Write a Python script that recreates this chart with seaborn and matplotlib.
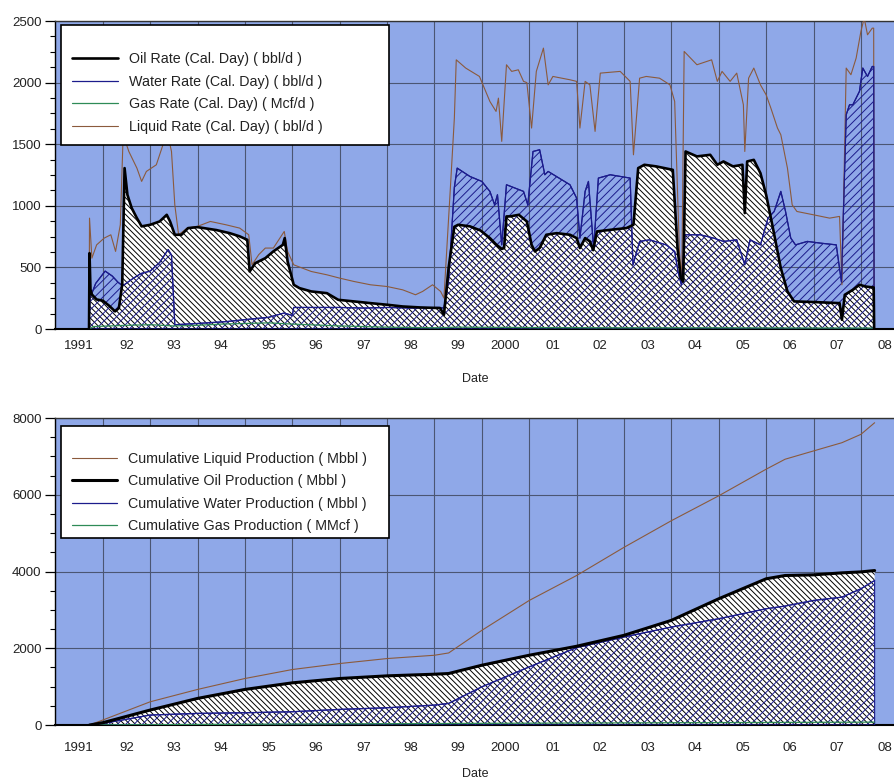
import matplotlib
matplotlib.use("Agg")
import matplotlib.pyplot as plt
import seaborn as sns
import pandas as pd
from matplotlib.ticker import FixedLocator, MultipleLocator, NullFormatter
from matplotlib.lines import Line2D
from matplotlib.legend_handler import HandlerLine2D

# ---------------- data (decimal years) ----------------
oil_t = [1991.71, 1991.72, 1991.74, 1991.77, 1991.87, 1992.0, 1992.13, 1992.26, 1992.34, 1992.41, 1992.46,
         1992.52, 1992.61, 1992.72, 1992.82, 1993.0, 1993.2, 1993.35, 1993.42, 1993.52, 1993.66, 1993.8,
         1994.0, 1994.4, 1994.68, 1994.89, 1995.05, 1995.1, 1995.22, 1995.43, 1995.6, 1995.8, 1995.84,
         1995.9, 1996.03, 1996.15, 1996.4, 1996.73, 1996.97, 1997.3, 1997.65, 1998.0, 1998.33, 1998.7,
         1999.12, 1999.2, 1999.3, 1999.42, 1999.5, 1999.75, 1999.97, 2000.17, 2000.31, 2000.42, 2000.47,
         2000.52, 2000.6, 2000.78, 2000.95, 2001.05, 2001.12, 2001.22, 2001.36, 2001.58, 2001.86, 2002.0,
         2002.07, 2002.18, 2002.28, 2002.35, 2002.43, 2002.71, 2003.05, 2003.2, 2003.3, 2003.43, 2003.68,
         2004.03, 2004.13, 2004.2, 2004.25, 2004.3, 2004.54, 2004.82, 2004.97, 2005.1, 2005.3, 2005.5,
         2005.55, 2005.6, 2005.74, 2005.88, 2006.0, 2006.13, 2006.31, 2006.45, 2006.59, 2007.0, 2007.55,
         2007.6, 2007.66, 2007.83, 2007.97, 2008.1, 2008.27, 2008.28]
oil_v = [0, 616, 320, 280, 240, 230, 190, 143, 170, 360, 1306,
         1089, 982, 900, 833, 846, 873, 927, 873, 765, 765, 819,
         827, 803, 778, 752, 724, 467, 535, 575, 630, 683, 738,
         549, 359, 332, 305, 291, 237, 224, 210, 197, 183, 175,
         170, 115, 500, 830, 846, 833, 800, 738, 683, 650, 657,
         914, 914, 927, 873, 683, 630, 657, 765, 778, 765, 738,
         657, 738, 711, 640, 792, 805, 819, 846, 1306, 1333, 1320,
         1292, 657, 413, 386, 1441, 1401, 1414, 1333, 1360, 1320, 1333,
         941, 1360, 1373, 1265, 1089, 846, 494, 305, 224, 219, 210,
         75, 278, 318, 359, 345, 337, 0]

water_t = [1991.71, 1991.73, 1991.78, 1991.85, 1991.95, 1992.05, 1992.2, 1992.32, 1992.42, 1992.6, 1992.8,
           1993.0, 1993.2, 1993.38, 1993.45, 1993.5, 1993.52, 1994.0, 1994.6, 1995.1, 1995.5, 1995.83,
           1996.0, 1996.03, 1996.5, 1997.0, 1997.5, 1998.0, 1998.5, 1999.1, 1999.2, 1999.3, 1999.42,
           1999.48, 1999.75, 2000.0, 2000.17, 2000.27, 2000.33, 2000.42, 2000.52, 2000.7, 2000.88, 2000.97,
           2001.08, 2001.22, 2001.33, 2001.4, 2001.86, 2002.0, 2002.07, 2002.18, 2002.25, 2002.36, 2002.46,
           2002.71, 2003.13, 2003.19, 2003.33, 2003.54, 2003.89, 2004.07, 2004.14, 2004.21, 2004.29, 2004.61,
           2004.89, 2005.1, 2005.38, 2005.55, 2005.66, 2005.88, 2006.04, 2006.17, 2006.31, 2006.41, 2006.52,
           2006.62, 2006.87, 2007.15, 2007.48, 2007.59, 2007.69, 2007.76, 2007.83, 2007.97, 2008.04, 2008.14,
           2008.24, 2008.27, 2008.28]
water_v = [0, 250, 300, 370, 420, 470, 430, 380, 350, 400, 450,
           470, 540, 645, 600, 200, 35, 45, 60, 80, 95, 130,
           110, 175, 175, 175, 170, 175, 170, 175, 170, 400, 1150,
           1306, 1238, 1198, 1117, 1008, 1090, 683, 1171, 1144, 1117, 1008,
           1441, 1455, 1252, 1279, 1171, 1063, 738, 1117, 1198, 657, 1225,
           1252, 1225, 521, 711, 724, 683, 630, 467, 359, 765, 765,
           738, 711, 724, 521, 724, 683, 900, 954, 1117, 954, 738,
           683, 711, 697, 683, 381, 1739, 1820, 1820, 1929, 2118, 2050,
           2131, 2131, 0]

liq_t = [1991.71, 1991.72, 1991.77, 1991.87, 1992.03, 1992.17, 1992.27, 1992.37, 1992.43, 1992.55, 1992.72,
         1992.82, 1992.92, 1993.13, 1993.27, 1993.36, 1993.45, 1993.52, 1993.6, 1993.78, 1994.0, 1994.27,
         1994.6, 1994.89, 1995.08, 1995.15, 1995.29, 1995.43, 1995.6, 1995.83, 1995.9, 1996.03, 1996.4,
         1996.73, 1997.0, 1997.3, 1997.65, 1998.0, 1998.33, 1998.6, 1998.75, 1998.96, 1999.13, 1999.2,
         1999.34, 1999.42, 1999.46, 1999.66, 1999.95, 2000.17, 2000.3, 2000.35, 2000.42, 2000.52, 2000.63,
         2000.77, 2000.88, 2000.95, 2001.05, 2001.15, 2001.3, 2001.4, 2001.5, 2001.86, 2002.0, 2002.07,
         2002.18, 2002.28, 2002.39, 2002.5, 2002.92, 2003.13, 2003.2, 2003.33, 2003.47, 2003.75, 2003.97,
         2004.07, 2004.17, 2004.22, 2004.27, 2004.54, 2004.85, 2004.97, 2005.07, 2005.24, 2005.38, 2005.52,
         2005.55, 2005.63, 2005.74, 2005.88, 2006.0, 2006.1, 2006.24, 2006.31, 2006.45, 2006.55, 2006.65,
         2007.0, 2007.34, 2007.55, 2007.6, 2007.69, 2007.79, 2007.9, 2008.0, 2008.07, 2008.14, 2008.24,
         2008.27, 2008.28]
liq_v = [0, 900, 575, 683, 738, 765, 630, 846, 1576, 1441, 1306,
         1198, 1279, 1333, 1495, 1600, 1441, 1008, 765, 819, 833, 873,
         846, 819, 765, 521, 603, 657, 657, 792, 630, 521, 467,
         440, 413, 386, 359, 345, 318, 278, 305, 359, 305, 251,
         1171, 1711, 2185, 2118, 2050, 1847, 1766, 1874, 1523, 2145, 2091,
         2104, 2010, 2000, 1631, 2091, 2280, 1982, 2050, 2023, 2010, 1631,
         2010, 1982, 1604, 2077, 2091, 2010, 1414, 2036, 2050, 2036, 1982,
         1847, 630, 420, 2253, 2145, 2185, 2010, 2091, 2010, 2077, 1820,
         1441, 2036, 2118, 1982, 1901, 1793, 1631, 1577, 1306, 1008, 954,
         927, 900, 914, 359, 2118, 2064, 2199, 2415, 2524, 2388, 2442,
         2442, 0]

gas_t = [1991.71, 1991.8, 1992.5, 1993.0, 1993.5, 1994.0, 1994.5, 1995.0, 1995.5, 1996.0,
         1997.0, 1998.0, 1999.0, 1999.5, 2001.0, 2003.0, 2005.0, 2007.0, 2008.27, 2008.28]
gas_v = [0, 20, 30, 35, 25, 30, 40, 45, 50, 40,
         25, 15, 10, 15, 12, 10, 10, 8, 8, 0]

cum_t = [1991.72, 1992.0, 1993.0, 1994.0, 1995.0, 1996.0, 1997.0, 1998.0, 1999.0, 1999.3, 2000.0,
         2001.0, 2002.0, 2003.0, 2004.0, 2005.0, 2006.0, 2006.4, 2007.0, 2007.6, 2008.0, 2008.29]
cum_liq = [0, 130, 605, 927, 1212, 1446, 1602, 1732, 1818, 1878, 2467,
           3246, 3896, 4630, 5324, 5973, 6666, 6926, 7142, 7357, 7574, 7877]
cum_oil = [0, 60, 390, 693, 927, 1099, 1212, 1281, 1324, 1342, 1558,
           1818, 2052, 2337, 2727, 3290, 3810, 3896, 3913, 3965, 3990, 4025]
cum_water = [0, 40, 260, 303, 320, 346, 407, 450, 519, 563, 995,
             1514, 2017, 2294, 2553, 2770, 3030, 3100, 3246, 3332, 3550, 3766]
cum_gas = [0, 2, 8, 14, 20, 26, 31, 35, 38, 40, 44,
           48, 52, 56, 60, 63, 66, 68, 70, 72, 74, 75]

year_labels = ["1991", "92", "93", "94", "95", "96", "97", "98", "99", "2000",
               "01", "02", "03", "04", "05", "06", "07", "08"]

top_labels = ["Oil Rate (Cal. Day) ( bbl/d )", "Water Rate (Cal. Day) ( bbl/d )",
              "Gas Rate (Cal. Day) ( Mcf/d )", "Liquid Rate (Cal. Day) ( bbl/d )"]
bot_labels = ["Cumulative Liquid Production ( Mbbl )", "Cumulative Oil Production ( Mbbl )",
              "Cumulative Water Production ( Mbbl )", "Cumulative Gas Production ( MMcf )"]

# ---------------- style ----------------
sns.set_style("white")
plt.rcParams["font.family"] = ["Liberation Sans", "DejaVu Sans"]
plt.rcParams["hatch.linewidth"] = 0.7

BG = "#8FA8E8"
GRID = "#4b5673"
OIL_C = "black"
WATER_C = "#1c1c8c"
GAS_C = "#2e8b57"
LIQ_C = "#8b5a3c"
TXT = "#222222"
OIL_HATCH = "\\" * 6
WATER_HATCH = "/" * 4

XMIN, XMAX = 1991.0, 2008.72
years = list(range(1991, 2010))
mid_years = [y + 0.5 for y in range(1991, 2009)]
months = [y + m / 12 for y in range(1991, 2009) for m in range(1, 12)]

fig = plt.figure(figsize=(8.95, 7.78), dpi=100, facecolor="white")
ax1 = fig.add_axes([0.0619, 0.5771, 0.9381, 0.3959])
ax2 = fig.add_axes([0.0619, 0.0681, 0.9381, 0.3946])


def style(ax, ymax, ymaj, ymin, lab_pad, date_pad):
    ax.set_facecolor(BG)
    ax.set_xlim(XMIN, XMAX)
    ax.set_ylim(0, ymax)
    ax.xaxis.set_major_locator(FixedLocator(years))
    ax.xaxis.set_minor_locator(FixedLocator(months))
    ax.xaxis.set_major_formatter(NullFormatter())
    ax.tick_params(axis="x", which="major", direction="out", length=8.5, width=1.0, color="black")
    ax.tick_params(axis="x", which="minor", direction="out", length=3, width=0.8, color="black")
    ax.yaxis.set_major_locator(MultipleLocator(ymaj))
    ax.yaxis.set_minor_locator(MultipleLocator(ymin))
    ax.tick_params(axis="y", which="major", direction="out", length=7, width=0.9, pad=3,
                   labelsize=9.5, labelcolor=TXT, color="black", left=True)
    ax.tick_params(axis="y", which="minor", direction="out", length=3.5, width=0.8, color="black", left=True)
    ax.grid(True, which="major", color=GRID, lw=0.8)
    ax.set_axisbelow(True)
    ax.spines["right"].set_visible(False)
    ax.spines["top"].set_color("#333333")
    ax.spines["top"].set_linewidth(1.0)
    ax.spines["left"].set_color("black")
    ax.spines["left"].set_linewidth(1.0)
    ax.spines["bottom"].set_color("black")
    ax.spines["bottom"].set_linewidth(1.5)
    ax.set_xlabel("")
    ax.set_ylabel("")
    sec = ax.secondary_xaxis("bottom")
    sec.set_xticks(mid_years, year_labels)
    sec.tick_params(length=0, pad=lab_pad, labelsize=9.5, labelcolor=TXT)
    sec.spines["bottom"].set_visible(False)
    sec.set_xlabel("Date", fontsize=9, color=TXT, labelpad=date_pad)


def make_legend(ax, handles, labels, top, bpad, tsize, lspace, hlen, tpad, xpad):
    leg = ax.legend(handles, labels, loc="upper left",
                    bbox_to_anchor=(0.0067, 0.3, 0.3907, top - 0.3), mode="expand", borderaxespad=0,
                    fontsize=10.3, frameon=True, fancybox=False, framealpha=1, edgecolor="black",
                    handlelength=hlen, handletextpad=tpad, labelspacing=lspace, borderpad=bpad,
                    title=" ", title_fontsize=tsize,
                    handler_map={Line2D: HandlerLine2D(xpad=xpad)})
    leg.get_frame().set_linewidth(1.2)
    leg.set_zorder(10)
    for t in leg.get_texts():
        t.set_color(TXT)
    return leg


# ---------------- top: rates ----------------
style(ax1, 2500, 500, 125, 8, 15)
ax1.fill_between(oil_t, 0, oil_v, facecolor="white", edgecolor="black", hatch=OIL_HATCH, linewidth=0, zorder=2)
ax1.fill_between(water_t, 0, water_v, facecolor="none", edgecolor=WATER_C, hatch=WATER_HATCH, linewidth=0.8, zorder=3)

df_liq = pd.DataFrame({"t": liq_t, "v": liq_v})
df_wat = pd.DataFrame({"t": water_t, "v": water_v})
df_gas = pd.DataFrame({"t": gas_t, "v": gas_v})
df_oil = pd.DataFrame({"t": oil_t, "v": oil_v})

sns.lineplot(data=df_liq, x="t", y="v", ax=ax1, estimator=None, sort=False, color=LIQ_C, lw=0.8, zorder=4)
h_liq = ax1.lines[-1]
sns.lineplot(data=df_wat, x="t", y="v", ax=ax1, estimator=None, sort=False, color=WATER_C, lw=0.9, zorder=5)
h_wat = ax1.lines[-1]
sns.lineplot(data=df_gas, x="t", y="v", ax=ax1, estimator=None, sort=False, color=GAS_C, lw=0.9, zorder=5)
h_gas = ax1.lines[-1]
sns.lineplot(data=df_oil, x="t", y="v", ax=ax1, estimator=None, sort=False, color=OIL_C, lw=1.9, zorder=6)
h_oil = ax1.lines[-1]
ax1.set_xlim(XMIN, XMAX)
ax1.set_ylim(0, 2500)
ax1.set_xlabel("")
ax1.set_ylabel("")
make_legend(ax1, [h_oil, h_wat, h_gas, h_liq], top_labels, 0.987, 0.8, 6, 0.6, 3.15, 0.8, 0.0)

# ---------------- bottom: cumulative ----------------
style(ax2, 8000, 2000, 500, 12, 10)
ax2.fill_between(cum_t, 0, cum_oil, facecolor="white", edgecolor="black", hatch=OIL_HATCH, linewidth=0, zorder=2)
ax2.fill_between(cum_t, 0, cum_water, facecolor="none", edgecolor=WATER_C, hatch=WATER_HATCH, linewidth=0.8, zorder=3)

df_c = pd.DataFrame({"t": cum_t, "liq": cum_liq, "oil": cum_oil, "wat": cum_water, "gas": cum_gas})
sns.lineplot(data=df_c, x="t", y="liq", ax=ax2, estimator=None, sort=False, color=LIQ_C, lw=0.8, zorder=4)
c_liq = ax2.lines[-1]
sns.lineplot(data=df_c, x="t", y="wat", ax=ax2, estimator=None, sort=False, color=WATER_C, lw=0.9, zorder=5)
c_wat = ax2.lines[-1]
sns.lineplot(data=df_c, x="t", y="gas", ax=ax2, estimator=None, sort=False, color=GAS_C, lw=0.9, zorder=5)
c_gas = ax2.lines[-1]
sns.lineplot(data=df_c, x="t", y="oil", ax=ax2, estimator=None, sort=False, color=OIL_C, lw=2.2, zorder=6)
c_oil = ax2.lines[-1]
ax2.set_xlim(XMIN, XMAX)
ax2.set_ylim(0, 8000)
ax2.set_xlabel("")
ax2.set_ylabel("")
make_legend(ax2, [c_liq, c_oil, c_wat, c_gas], bot_labels, 0.974, 0.35, 9.5, 0.6, 3.57, 0.77, 0.42)

fig.savefig("out.png", dpi=100, facecolor="white")
